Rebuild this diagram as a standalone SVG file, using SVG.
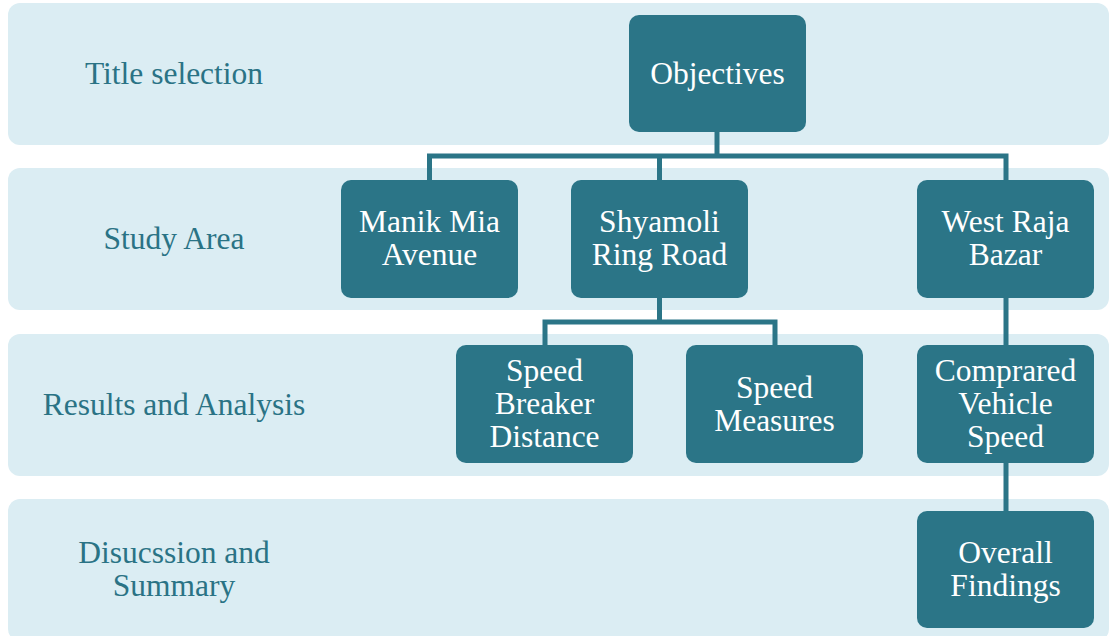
<svg xmlns="http://www.w3.org/2000/svg" width="1110" height="636" viewBox="0 0 1110 636">
<style>
.band{fill:#DBEDF3}
.node rect{fill:#2B7587}
.nt{fill:#FFFFFF;text-anchor:middle}
.lt{fill:#2A7385;text-anchor:middle}
.conn{stroke:#2B7587;stroke-width:5;fill:none}
</style>
<rect width="1110" height="636" fill="#FFFFFF"/>
<g id="bands">
<rect class="band" x="8" y="3" width="1101" height="142" rx="12"/>
<rect class="band" x="8" y="168" width="1101" height="142" rx="12"/>
<rect class="band" x="8" y="334" width="1101" height="142" rx="12"/>
<rect class="band" x="8" y="499" width="1101" height="142" rx="12"/>
</g>
<g id="lane-labels">
<text class="lt" style="font-family:'Liberation Serif',serif;font-size:31.5px" x="174" y="84">Title selection</text>
<text class="lt" style="font-family:'Liberation Serif',serif;font-size:31.5px" x="174" y="249">Study Area</text>
<text class="lt" style="font-family:'Liberation Serif',serif;font-size:31.5px" x="174" y="415">Results and Analysis</text>
<text class="lt" style="font-family:'Liberation Serif',serif;font-size:31.5px" x="174" y="563">Disucssion and</text>
<text class="lt" style="font-family:'Liberation Serif',serif;font-size:31.5px" x="174" y="596">Summary</text>
</g>
<g id="connectors">
<polyline class="conn" points="717,132 717,156"/>
<polyline class="conn" points="429.5,182 429.5,156 1006,156 1006,182"/>
<polyline class="conn" points="659.5,156 659.5,182"/>
<polyline class="conn" points="659.5,296 659.5,322"/>
<polyline class="conn" points="545,347 545,322 775,322 775,347"/>
<polyline class="conn" points="1006,296 1006,513"/>
</g>
<g id="objectives" class="node">
<rect x="629" y="15" width="177" height="117" rx="10"/>
<text class="nt" style="font-family:'Liberation Serif',serif;font-size:31.5px" x="717.5" y="84">Objectives</text>
</g>
<g id="manik-mia" class="node">
<rect x="341" y="180" width="177" height="118" rx="10"/>
<text class="nt" style="font-family:'Liberation Serif',serif;font-size:31.5px" x="429.5" y="232">Manik Mia</text>
<text class="nt" style="font-family:'Liberation Serif',serif;font-size:31.5px" x="429.5" y="265">Avenue</text>
</g>
<g id="shyamoli" class="node">
<rect x="571" y="180" width="177" height="118" rx="10"/>
<text class="nt" style="font-family:'Liberation Serif',serif;font-size:31.5px" x="659.5" y="232">Shyamoli</text>
<text class="nt" style="font-family:'Liberation Serif',serif;font-size:31.5px" x="659.5" y="265">Ring Road</text>
</g>
<g id="west-raja" class="node">
<rect x="917" y="180" width="177" height="118" rx="10"/>
<text class="nt" style="font-family:'Liberation Serif',serif;font-size:31.5px" x="1005.5" y="232">West Raja</text>
<text class="nt" style="font-family:'Liberation Serif',serif;font-size:31.5px" x="1005.5" y="265">Bazar</text>
</g>
<g id="speed-breaker" class="node">
<rect x="456" y="345" width="177" height="118" rx="10"/>
<text class="nt" style="font-family:'Liberation Serif',serif;font-size:31.5px" x="544.5" y="381">Speed</text>
<text class="nt" style="font-family:'Liberation Serif',serif;font-size:31.5px" x="544.5" y="414">Breaker</text>
<text class="nt" style="font-family:'Liberation Serif',serif;font-size:31.5px" x="544.5" y="447">Distance</text>
</g>
<g id="speed-measures" class="node">
<rect x="686" y="345" width="177" height="118" rx="10"/>
<text class="nt" style="font-family:'Liberation Serif',serif;font-size:31.5px" x="774.5" y="398">Speed</text>
<text class="nt" style="font-family:'Liberation Serif',serif;font-size:31.5px" x="774.5" y="431">Measures</text>
</g>
<g id="comprared" class="node">
<rect x="917" y="345" width="177" height="118" rx="10"/>
<text class="nt" style="font-family:'Liberation Serif',serif;font-size:31.5px" x="1005.5" y="381">Comprared</text>
<text class="nt" style="font-family:'Liberation Serif',serif;font-size:31.5px" x="1005.5" y="414">Vehicle</text>
<text class="nt" style="font-family:'Liberation Serif',serif;font-size:31.5px" x="1005.5" y="447">Speed</text>
</g>
<g id="overall" class="node">
<rect x="917" y="511" width="177" height="117" rx="10"/>
<text class="nt" style="font-family:'Liberation Serif',serif;font-size:31.5px" x="1005.5" y="563">Overall</text>
<text class="nt" style="font-family:'Liberation Serif',serif;font-size:31.5px" x="1005.5" y="596">Findings</text>
</g>
</svg>
